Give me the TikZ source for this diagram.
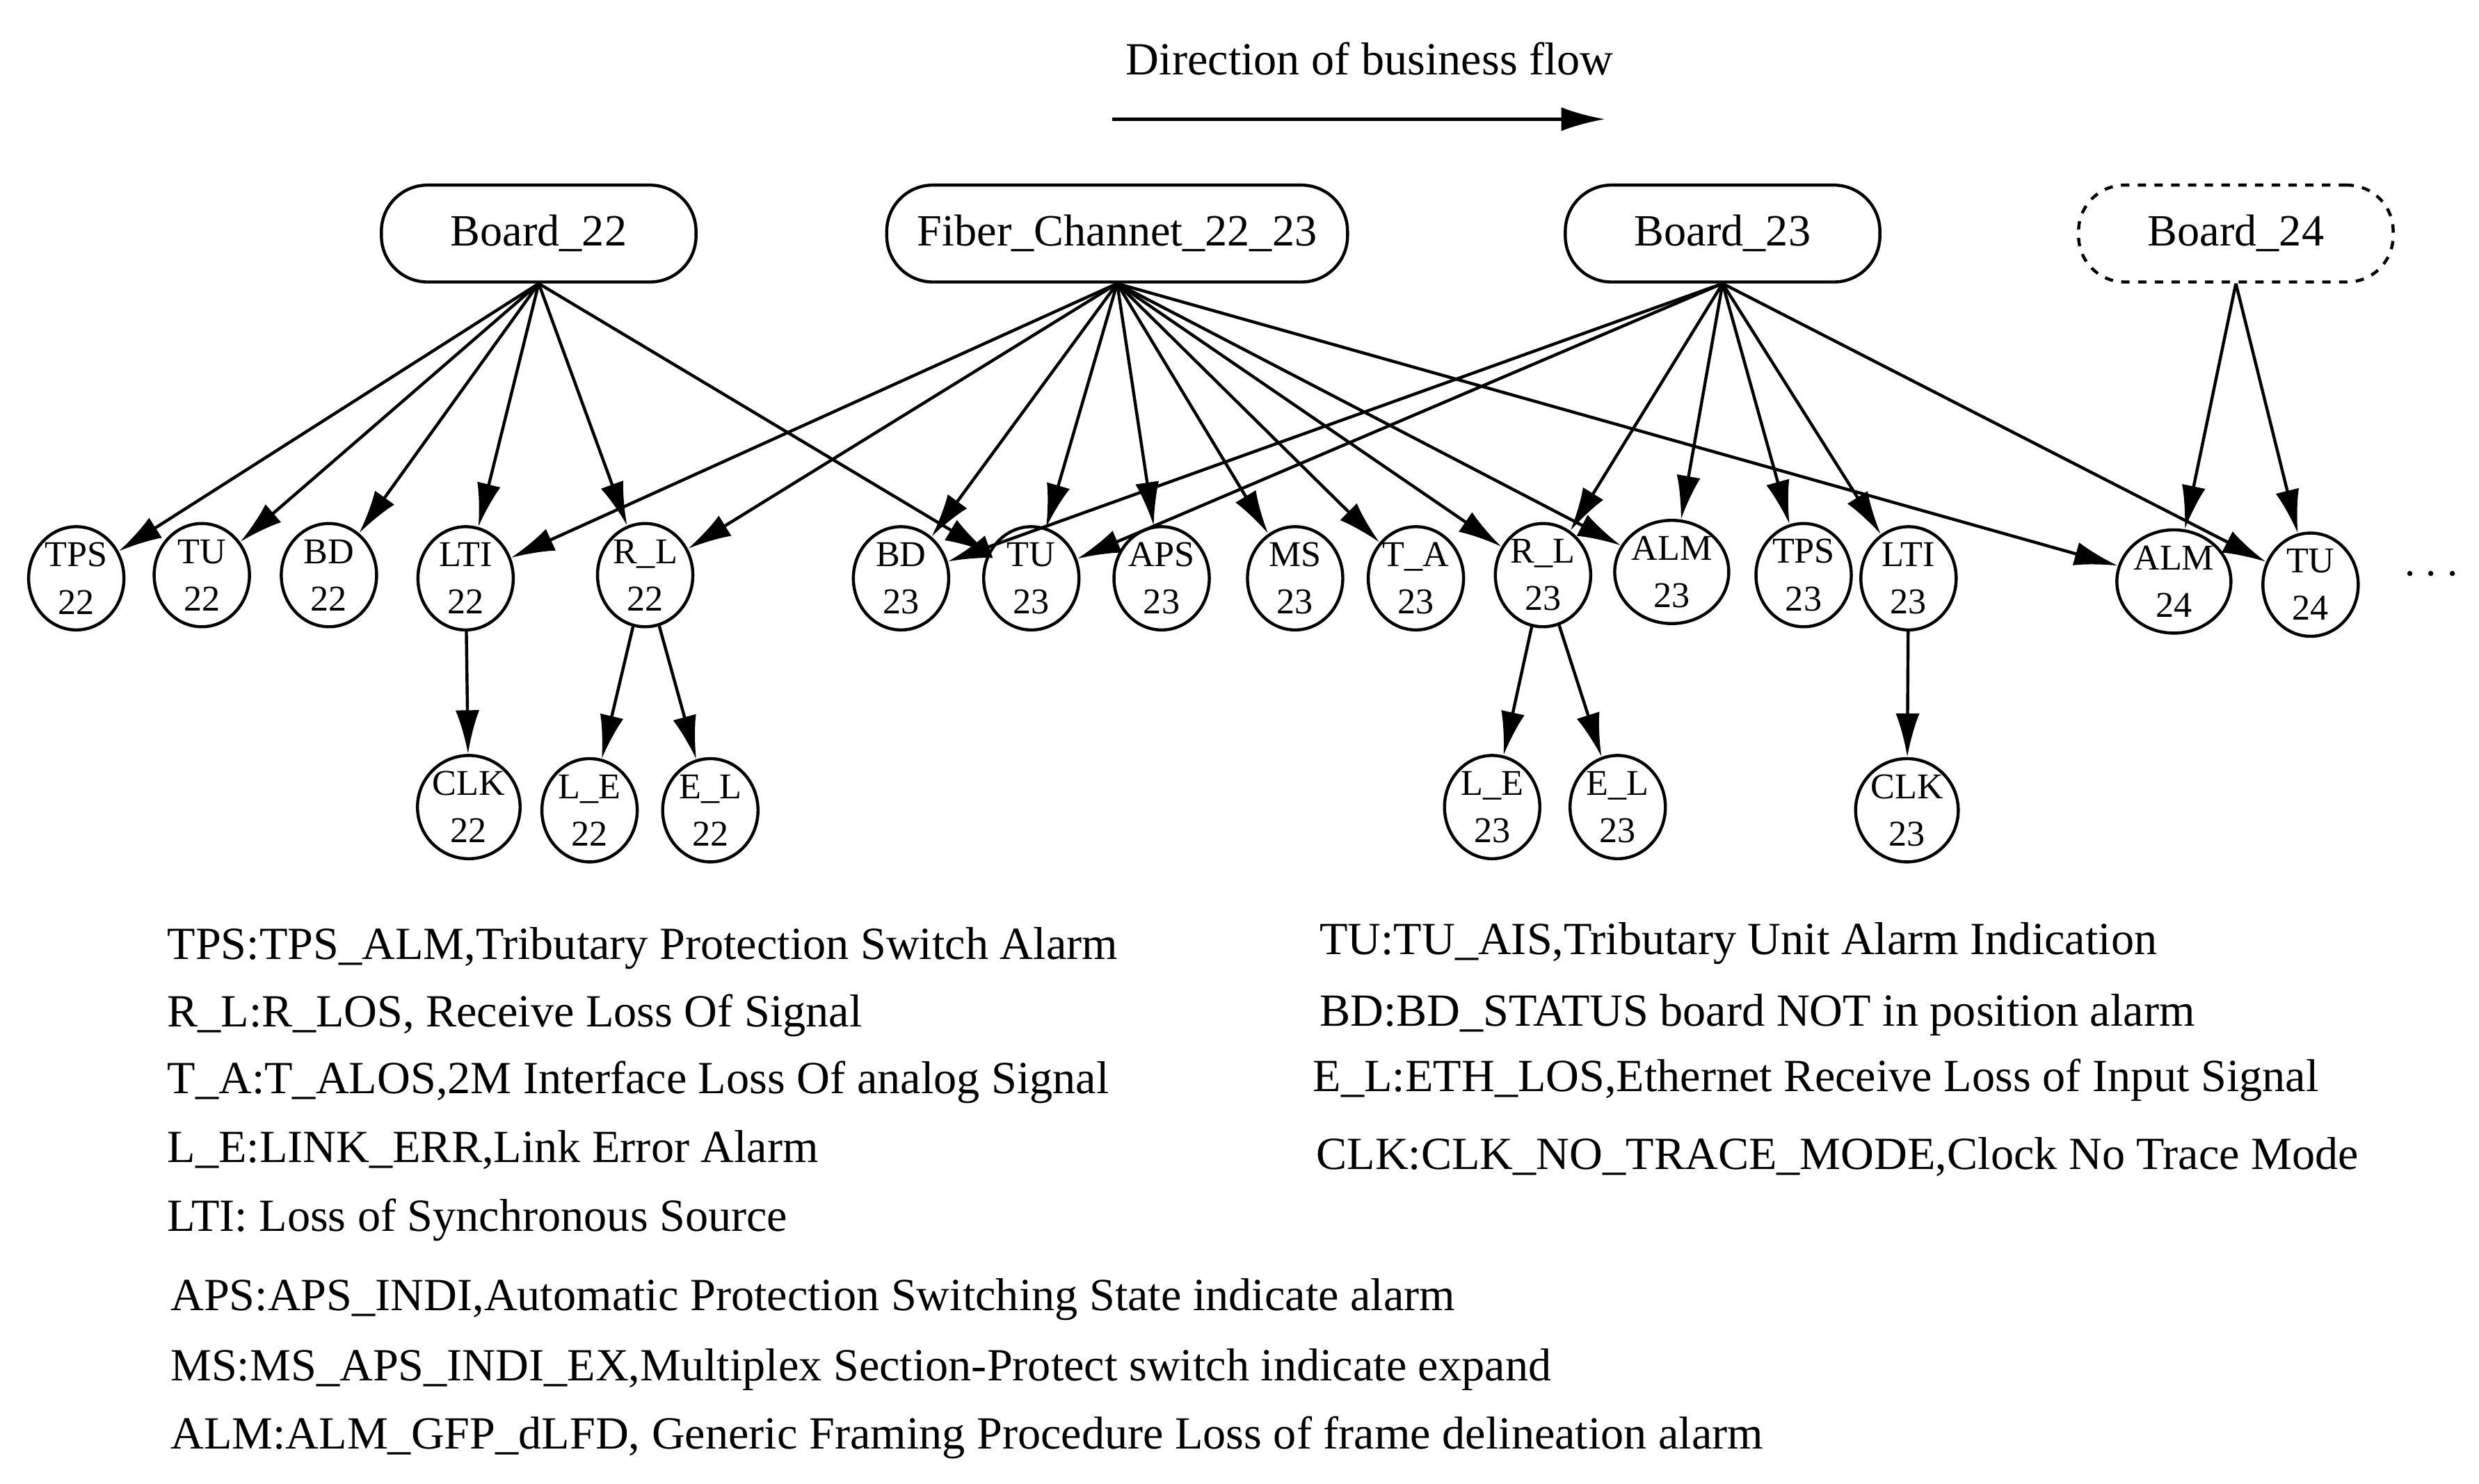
\documentclass[tikz,border=0pt]{standalone}
\usepackage{fontspec}
\setmainfont{Liberation Serif}
\usetikzlibrary{arrows.meta,shapes.geometric}
\begin{document}
\begin{tikzpicture}[x=0.02cm,y=-0.02cm,
  box/.style={draw,line width=1.1pt,rounded corners=0.58cm,minimum height=1.22cm,font=\fontsize{16}{18}\selectfont},
  al/.style={draw,ellipse,line width=1.1pt,minimum width=1.2cm,minimum height=1.3cm,inner sep=0pt,align=center,font=\fontsize{13}{17}\selectfont},
  ar/.style={line width=1.1pt,-{Latex[length=0.55cm,width=0.3cm]}},
  lg/.style={anchor=west,inner sep=0pt,font=\fontsize{16.5}{18}\selectfont}]
\useasboundingbox (0,0) rectangle (1560,934);
\node[font=\fontsize{16.5}{18}\selectfont] (title) at (862,37) {Direction of business flow};
\coordinate (fa) at (700,75); \coordinate (fb) at (1010,75);
\draw[ar] (fa) -- (fb);
\node[box,minimum width=3.96cm] (B22) at (339,147) {Board\_22};
\node[box,minimum width=5.8cm] (F) at (703,147) {Fiber\_Channet\_22\_23};
\node[box,minimum width=3.96cm] (B23) at (1084,147) {Board\_23};
\node[box,dashed,minimum width=3.96cm] (B24) at (1407,147) {Board\_24};
\node[al] (tps22) at (48,364) {TPS\\22};
\node[al] (tu22) at (127,362) {TU\\22};
\node[al] (bd22) at (207,362) {BD\\22};
\node[al] (lti22) at (293,364) {LTI\\22};
\node[al] (rl22) at (406,362) {R\_L\\22};
\node[al] (clk22) at (295,508) {CLK\\22};
\node[al] (le22) at (371,510) {L\_E\\22};
\node[al] (el22) at (447,510) {E\_L\\22};
\node[al] (bd23) at (567,364) {BD\\23};
\node[al] (tu23) at (649,364) {TU\\23};
\node[al] (aps23) at (731,364) {APS\\23};
\node[al] (ms23) at (815,364) {MS\\23};
\node[al] (ta23) at (891,364) {T\_A\\23};
\node[al] (rl23) at (971,362) {R\_L\\23};
\node[al] (alm23) at (1052,360) {ALM\\23};
\node[al] (tps23) at (1135,362) {TPS\\23};
\node[al] (lti23) at (1201,364) {LTI\\23};
\node[al] (le23) at (939,508) {L\_E\\23};
\node[al] (el23) at (1018,508) {E\_L\\23};
\node[al] (clk23) at (1200,510) {CLK\\23};
\node[al] (alm24) at (1368,366) {ALM\\24};
\node[al] (tu24) at (1454,368) {TU\\24};
\node (dots) at (1530,362) {\fontsize{16}{18}\selectfont$\cdots$};
\foreach \t in {tps22,tu22,bd22,lti22,rl22,tu23} \draw[ar] (B22.south) -- (\t);
\foreach \t in {lti22,rl22,bd23,tu23,aps23,ms23,ta23,rl23,alm23,alm24} \draw[ar] (F.south) -- (\t);
\foreach \t in {bd23,tu23,rl23,alm23,tps23,lti23,tu24} \draw[ar] (B23.south) -- (\t);
\foreach \t in {alm24,tu24} \draw[ar] (B24.south) -- (\t);
\draw[ar] (lti22) -- (clk22);
\draw[ar] (rl22) -- (le22);
\draw[ar] (rl22) -- (el22);
\draw[ar] (rl23) -- (le23);
\draw[ar] (rl23) -- (el23);
\draw[ar] (lti23) -- (clk23);
\node[lg] (l1) at (105,597) {TPS:TPS\_ALM,Tributary Protection Switch Alarm};
\node[lg] (l2) at (105,639) {R\_L:R\_LOS, Receive Loss Of Signal};
\node[lg] (l3) at (105,681) {T\_A:T\_ALOS,2M Interface Loss Of analog Signal};
\node[lg] (l4) at (105,724) {L\_E:LINK\_ERR,Link Error Alarm};
\node[lg] (l5) at (105,768) {LTI: Loss of Synchronous Source};
\node[lg] (l6) at (107,818) {APS:APS\_INDI,Automatic Protection Switching State indicate alarm};
\node[lg] (l7) at (107,862) {MS:MS\_APS\_INDI\_EX,Multiplex Section-Protect switch indicate expand};
\node[lg] (l8) at (107,905) {ALM:ALM\_GFP\_dLFD, Generic Framing Procedure Loss of frame delineation alarm};
\node[lg] (r1) at (830,594) {TU:TU\_AIS,Tributary Unit Alarm Indication};
\node[lg] (r2) at (830,639) {BD:BD\_STATUS board NOT in position alarm};
\node[lg] (r3) at (826,680) {E\_L:ETH\_LOS,Ethernet Receive Loss of Input Signal};
\node[lg] (r4) at (828,728) {CLK:CLK\_NO\_TRACE\_MODE,Clock No Trace Mode};
\end{tikzpicture}
\end{document}
